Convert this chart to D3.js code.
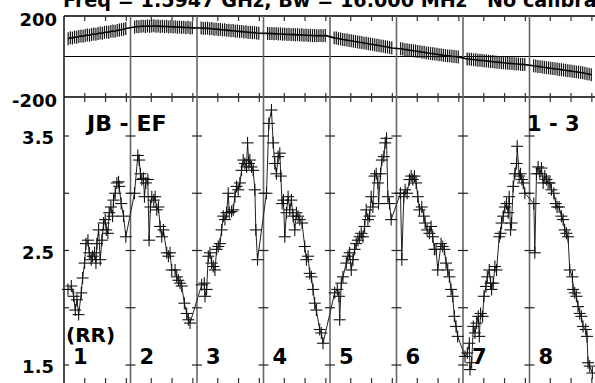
<!DOCTYPE html>
<html>
<head>
<meta charset="utf-8">
<script src="https://cdn.jsdelivr.net/npm/d3@7"></script>
<style>
  body { margin: 0; background: #fff; }
  svg { display: block; }
  text { font-family: "DejaVu Sans", sans-serif; font-weight: bold; fill: #000; }
</style>
</head>
<body>
<svg id="chart" width="595" height="383"></svg>
<script>
// ---- data ----
var days = ["1", "2", "3", "4", "5", "6", "7", "8"];
var phaseTicks = [-200, 200];
var ampTicks = [1.5, 2.5, 3.5];
var ampMinorTicks = [2.0, 3.0];
var timeTicks = [7.5, 15, 22.5];   // hours inside each day
var phaseSpan = [1.5, 22.3];       // first / last phase sample of a day (hours)

// phase (deg), one array per day
var ph1 = [88, 93, 91, 96, 95, 99, 101, 100, 104, 106, 105, 109, 111, 110, 114, 116, 115, 119, 121, 120, 124, 126, 125, 129, 131, 133, 135, 138];
var ph2 = [146, 148, 147, 149, 150, 148, 151, 149, 150, 152, 149, 151, 148, 150, 147, 149, 146, 148, 145, 147, 144, 146, 143, 145, 142, 144, 141, 142];
var ph3 = [141, 140, 139, 140, 137, 138, 135, 136, 133, 134, 131, 132, 129, 130, 127, 128, 125, 126, 123, 124, 121, 122, 119, 120, 117, 118, 116, 115];
var ph4 = [114, 113, 114, 112, 113, 111, 112, 110, 111, 109, 110, 108, 109, 107, 108, 106, 107, 105, 106, 104, 105, 103, 104, 102, 103, 104, 102, 104];
var ph5 = [92, 91, 88, 87, 84, 83, 81, 79, 78, 75, 74, 72, 70, 69, 66, 65, 63, 61, 60, 57, 56, 54, 52, 51, 48, 47, 44, 42];
var ph6 = [38, 37, 34, 34, 31, 30, 28, 27, 25, 24, 21, 21, 18, 17, 15, 14, 12, 11, 9, 8, 6, 5, 3, 3, 1, 0, -1, -2];
var ph7 = [-12, -13, -14, -16, -16, -18, -19, -20, -21, -22, -23, -25, -25, -27, -28, -29, -30, -31, -32, -33, -34, -35, -36, -37, -37, -39, -39, -40];
var ph8 = [-46, -47, -49, -50, -52, -53, -55, -56, -58, -59, -61, -62, -64, -65, -67, -68, -70, -71, -73, -74, -76, -77, -79, -80, -83, -85, -87, -90];
var phaseDays = [ph1, ph2, ph3, ph4, ph5, ph6, ph7, ph8];

// amplitude, [hour in day, amp] per day
var amp1 = [[1.44,2.16],[2.64,2.19],[3.48,2.10],[4.08,1.98],[4.68,2.07],[5.28,1.94],[6.24,2.13],[6.72,2.26],[7.44,2.39],[7.92,2.56],[8.64,2.59],[9.12,2.48],[9.84,2.42],[10.32,2.45],[11.04,2.48],[11.52,2.39],[11.88,2.56],[12.48,2.68],[13.08,2.42],[13.68,2.59],[14.28,2.74],[14.88,2.77],[15.24,2.68],[15.84,2.65],[16.32,2.83],[16.92,2.88],[17.52,2.80],[17.88,2.94],[18.48,3.00],[19.08,3.09],[19.68,3.10],[19.92,3.06],[20.64,2.91],[21.48,2.80],[22.32,2.62]];
var amp2 = [[1.44,3.00],[2.64,3.33],[3.12,3.29],[3.60,3.17],[4.08,3.12],[4.68,3.13],[5.04,2.97],[5.52,3.09],[6.24,3.12],[6.72,2.59],[7.20,2.88],[7.68,2.97],[8.40,2.94],[8.88,2.97],[9.48,2.855],[10.08,2.88],[10.68,2.71],[11.28,2.62],[11.88,2.68],[13.08,2.48],[13.68,2.45],[14.28,2.48],[14.88,2.33],[16.08,2.33],[16.68,2.27],[17.28,2.24],[17.88,2.215],[18.48,2.19],[19.44,2.04],[20.28,1.95],[20.88,1.895],[21.48,1.866]];
var amp3 = [[1.68,2.20],[2.64,2.215],[2.88,2.10],[3.48,2.16],[4.08,2.45],[4.68,2.48],[5.28,2.39],[5.88,2.36],[6.48,2.33],[7.08,2.51],[7.68,2.535],[8.28,2.56],[8.88,2.68],[9.48,2.80],[10.08,2.77],[10.68,2.83],[11.28,3.00],[11.64,2.83],[12.48,2.84],[13.08,2.855],[13.68,2.97],[14.28,3.06],[14.88,3.03],[15.48,3.09],[16.08,3.20],[16.68,3.29],[17.28,3.26],[17.88,3.23],[18.24,3.44],[18.72,3.26],[19.08,3.29],[19.68,3.23],[20.28,3.20],[20.88,3.03],[21.24,2.68],[21.84,2.42]];
var amp4 = [[1.08,3.00],[1.92,3.61],[2.88,3.727],[3.48,3.44],[4.08,3.26],[4.68,3.17],[5.28,3.32],[5.88,3.35],[6.24,3.15],[6.72,2.91],[7.20,2.94],[7.68,2.62],[8.28,2.83],[8.88,2.97],[9.48,2.855],[10.08,2.94],[10.68,2.80],[11.28,2.68],[11.88,2.83],[12.48,2.80],[13.08,2.77],[13.92,2.74],[14.88,2.535],[15.48,2.42],[16.08,2.45],[16.68,2.30],[17.28,2.27],[17.88,2.16],[18.48,2.04],[19.08,1.98],[20.28,1.81],[20.88,1.78],[21.48,1.69]];
var amp5 = [[1.68,2.13],[2.64,2.16],[3.24,2.10],[3.48,1.895],[4.08,2.215],[4.68,2.27],[5.88,2.39],[6.48,2.45],[7.08,2.48],[7.68,2.33],[8.28,2.42],[8.88,2.51],[9.48,2.56],[10.08,2.59],[10.68,2.62],[11.28,2.65],[11.88,2.62],[12.48,2.71],[13.08,2.855],[13.68,2.77],[14.28,2.80],[14.88,2.97],[15.48,2.88],[16.08,3.15],[16.68,3.17],[17.28,3.09],[17.52,2.91],[18.24,3.17],[18.72,3.29],[19.44,3.32],[19.92,3.44],[20.40,3.48],[20.88,2.97],[21.48,2.91],[22.08,2.77]];
var amp6 = [[1.44,3.00],[1.92,2.42],[2.64,2.97],[3.12,3.03],[3.84,3.00],[4.68,3.12],[5.28,3.15],[5.88,3.12],[6.48,3.15],[7.08,3.09],[7.68,2.97],[8.28,2.855],[9.12,2.88],[9.84,2.80],[10.32,2.74],[11.04,2.68],[11.88,2.65],[12.48,2.71],[13.08,2.62],[13.68,2.51],[14.28,2.51],[14.88,2.33],[16.08,2.56],[16.68,2.535],[17.28,2.51],[17.88,2.39],[18.48,2.33],[19.08,2.27],[19.68,2.16],[20.28,2.10],[20.88,1.925],[21.48,1.837],[22.08,1.75]];
var amp7 = [[0.72,1.575],[1.56,1.605],[2.28,1.69],[2.52,1.46],[3.12,1.52],[3.72,1.837],[4.32,1.78],[4.92,1.866],[5.52,1.925],[5.88,1.75],[6.36,1.95],[7.08,1.925],[7.56,2.10],[8.28,2.186],[8.76,2.27],[9.48,2.33],[9.96,2.215],[10.32,2.16],[10.92,2.215],[11.52,2.36],[12.12,2.33],[13.08,2.62],[13.56,2.65],[13.92,2.74],[14.52,2.80],[15.12,2.88],[15.72,2.91],[16.32,2.83],[16.68,2.97],[17.16,2.68],[17.52,2.74],[18.12,3.06],[18.72,3.17],[19.32,3.26],[19.56,3.41],[20.28,3.15],[20.76,3.17],[21.24,3.12],[21.72,3.09],[22.32,3.00]];
var amp8 = [[1.56,2.91],[1.92,2.48],[2.52,3.17],[3.12,3.23],[3.72,3.17],[4.32,3.22],[4.92,3.09],[5.52,3.15],[6.12,3.12],[6.72,3.09],[7.32,3.09],[7.92,3.03],[8.76,3.00],[9.48,2.91],[9.96,2.88],[10.68,2.88],[11.52,2.80],[12.12,2.77],[12.72,2.68],[13.32,2.65],[13.92,2.62],[14.52,2.33],[15.48,2.27],[15.72,2.16],[16.32,2.13],[16.92,2.10],[17.52,2.01],[18.12,1.95],[18.72,1.925],[19.32,1.837],[20.28,1.81],[20.76,1.75],[21.12,1.52],[21.72,1.49],[22.68,1.43]];
var ampDays = [amp1, amp2, amp3, amp4, amp5, amp6, amp7, amp8];

// ---- layout ----
var svg = d3.select("#chart");
var x = d3.scaleLinear().domain([0, days.length * 24]).range([64, 596]);
var yPh = d3.scaleLinear().domain([-200, 200]).range([97, 16]);
var yAmp = d3.scaleLinear().domain([1.5, 3.5]).range([365, 136]);
var frameTop = yPh(200), frameMid = yPh(-200), frameBot = 384;

// flatten into points with absolute hours
var phasePts = [];
phaseDays.forEach(function (vals, d) {
  var t = d3.scaleLinear().domain([0, vals.length - 1]).range(phaseSpan);
  vals.forEach(function (v, i) { phasePts.push({ t: d * 24 + t(i), v: v }); });
});
var ampPts = [];
ampDays.forEach(function (pts, d) {
  pts.forEach(function (p) { ampPts.push({ t: d * 24 + p[0], v: p[1] }); });
});

// ---- frame ----
var g = svg.append("g");
g.append("line").attr("x1", 64).attr("x2", 596).attr("y1", frameTop).attr("y2", frameTop)
  .attr("stroke", "#000").attr("stroke-width", 1.4);
g.append("line").attr("x1", 64).attr("x2", 596).attr("y1", frameMid).attr("y2", frameMid)
  .attr("stroke", "#000").attr("stroke-width", 1.4);
g.append("line").attr("x1", 64).attr("x2", 596).attr("y1", yPh(0)).attr("y2", yPh(0))
  .attr("stroke", "#000").attr("stroke-width", 1);
g.append("line").attr("x1", 64).attr("x2", 64).attr("y1", frameTop).attr("y2", frameBot)
  .attr("stroke", "#000").attr("stroke-width", 1.4);

// day boundaries
d3.range(1, days.length).forEach(function (d) {
  g.append("line").attr("x1", x(d * 24)).attr("x2", x(d * 24))
    .attr("y1", frameTop).attr("y2", frameBot)
    .attr("stroke", "#666").attr("stroke-width", 1.6);
});

// time ticks inside each day
days.forEach(function (name, d) {
  timeTicks.forEach(function (h) {
    var xx = x(d * 24 + h);
    g.append("line").attr("x1", xx).attr("x2", xx).attr("y1", frameTop).attr("y2", frameTop + 5)
      .attr("stroke", "#333").attr("stroke-width", 1.2);
    g.append("line").attr("x1", xx).attr("x2", xx).attr("y1", frameMid - 4).attr("y2", frameMid + 5)
      .attr("stroke", "#333").attr("stroke-width", 1.2);
    g.append("line").attr("x1", xx).attr("x2", xx).attr("y1", frameBot - 6).attr("y2", frameBot)
      .attr("stroke", "#333").attr("stroke-width", 1.2);
  });
});

// amplitude ticks on every day line
var allAmpTicks = ampTicks.concat(ampMinorTicks);
days.forEach(function (name, d) {
  var xx = x(d * 24);
  allAmpTicks.forEach(function (v) {
    g.append("line").attr("x1", d === 0 ? xx : xx - 5).attr("x2", xx + 5)
      .attr("y1", yAmp(v)).attr("y2", yAmp(v))
      .attr("stroke", "#222").attr("stroke-width", 1.2);
  });
});

// ---- y labels ----
svg.append("g").attr("transform", "translate(64,0)")
  .call(d3.axisLeft(yPh).tickValues(phaseTicks).tickSize(0).tickPadding(7)
    .tickFormat(function (d) { return String(d); }))   // plain hyphen, as in the plot
  .call(function (a) { a.select(".domain").remove(); })
  .selectAll("text").attr("font-size", 18).attr("dy", "0.5em")
  .style("font-family", "DejaVu Sans").style("font-weight", "bold");

svg.append("g").attr("transform", "translate(64,0)")
  .call(d3.axisLeft(yAmp).tickValues(ampTicks).tickSize(0).tickPadding(10).tickFormat(d3.format(".1f")))
  .call(function (a) { a.select(".domain").remove(); })
  .selectAll("text").attr("font-size", 18).attr("dy", "0.42em")
  .style("font-family", "DejaVu Sans").style("font-weight", "bold");

// ---- phase ----
var linePh = d3.line().x(function (p) { return x(p.t); }).y(function (p) { return yPh(p.v); });
svg.append("path").datum(phasePts).attr("d", linePh)
  .attr("fill", "none").attr("stroke", "#000").attr("stroke-width", 1.6);
svg.append("g").selectAll("line").data(phasePts).enter().append("line")
  .attr("x1", function (p) { return x(p.t); })
  .attr("x2", function (p) { return x(p.t); })
  .attr("y1", function (p) { return yPh(p.v + 32); })
  .attr("y2", function (p) { return yPh(p.v - 32); })
  .attr("stroke", "#111").attr("stroke-width", 1.2);

// ---- amplitude ----
var lineAmp = d3.line().x(function (p) { return x(p.t); }).y(function (p) { return yAmp(p.v); });
svg.append("path").datum(ampPts).attr("d", lineAmp)
  .attr("fill", "none").attr("stroke", "#222").attr("stroke-width", 1);
var cross = svg.append("g").attr("stroke", "#111").attr("stroke-width", 1.1);
cross.selectAll(".h").data(ampPts).enter().append("line")
  .attr("x1", function (p) { return x(p.t) - 6; })
  .attr("x2", function (p) { return x(p.t) + 6; })
  .attr("y1", function (p) { return yAmp(p.v); })
  .attr("y2", function (p) { return yAmp(p.v); });
cross.selectAll(".v").data(ampPts).enter().append("line")
  .attr("x1", function (p) { return x(p.t); })
  .attr("x2", function (p) { return x(p.t); })
  .attr("y1", function (p) { return yAmp(p.v) - 6; })
  .attr("y2", function (p) { return yAmp(p.v) + 6; });

// ---- texts ----
svg.append("text").attr("x", 63).attr("y", 7).attr("font-size", 19.2)
  .style("white-space", "pre")
  .text("Freq = 1.5947 GHz, Bw = 16.000 MHz   No calibration");
svg.append("text").attr("x", 87).attr("y", 131).attr("font-size", 22).style("white-space", "pre").text("JB - EF");
svg.append("text").attr("x", 527).attr("y", 131).attr("font-size", 21).style("white-space", "pre").text("1 - 3");
svg.append("text").attr("x", 66).attr("y", 342).attr("font-size", 20).text("(RR)");
svg.append("g").selectAll("text").data(days).enter().append("text")
  .attr("x", function (d, i) { return x(i * 24) + 9; })
  .attr("y", 364).attr("font-size", 21)
  .text(function (d) { return d; });
</script>
</body>
</html>
